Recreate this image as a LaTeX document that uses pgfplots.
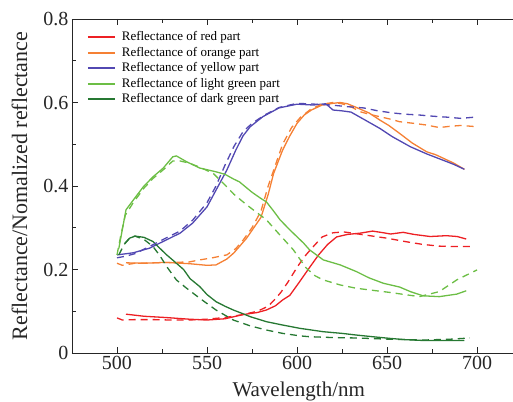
\documentclass[border=0pt]{standalone}
\usepackage{fontspec}
\setmainfont{Liberation Serif}
\usepackage{pgfplots}
\pgfplotsset{compat=1.18}
\definecolor{cred}{RGB}{237,32,36}
\definecolor{corange}{RGB}{245,128,52}
\definecolor{cyellow}{RGB}{82,72,178}
\definecolor{clight}{RGB}{108,190,69}
\definecolor{cdark}{RGB}{38,120,50}
\begin{document}
\begin{tikzpicture}
\begin{axis}[
  scale only axis, width=459pt, height=334pt,
  xmin=475, xmax=730, ymin=0, ymax=0.8,
  axis y line*=left,
  xtick={500,550,600,650,700}, minor xtick={525,575,625,675},
  ytick={0,0.2,0.4,0.6,0.8}, minor ytick={0.1,0.3,0.5,0.7},
  xtick pos=both, xticklabel pos=left, ytick pos=left,
  tick align=inside, major tick length=6pt, minor tick length=4pt,
  axis line style={black!85, line width=0.9pt, -},
  tick style={black!85, line width=0.9pt},
  /pgf/number format/assume math mode=true,
  tick label style={font=\fontsize{20}{22}\selectfont, black!85},
  xlabel={Wavelength/nm}, ylabel={Reflectance/Nomalized reflectance},
  xlabel style={font=\fontsize{21}{23}\selectfont, black!85, at={(axis description cs:0.494,-0.1317)}, anchor=base},
  ylabel style={font=\fontsize{22}{24}\selectfont, black!85, at={(axis description cs:-0.1144,0.5)}, anchor=center},
  legend cell align=left,
  legend style={at={(axis description cs:0.026,0.975)}, anchor=north west, draw=none, fill=none,
    font=\fontsize{13}{15}\selectfont, column sep=4pt,
    nodes={inner sep=2pt, text height=9pt, text depth=2.5pt}},
  legend image code/.code={\draw[#1, line width=1.7pt, solid] (0pt,0pt) -- (27pt,0pt);},
  every axis plot/.append style={line width=1.3pt},
  dashstyle/.style={dash pattern=on 7pt off 5pt},
]
\coordinate (bl) at (axis cs:435,-0.11497);
\coordinate (tr) at (axis cs:720,0.84551);
% solid
\addplot[cred] coordinates {(505,0.093)(515,0.088)(527,0.085)(540,0.081)(550,0.079)(560,0.082)(570,0.092)(578,0.097)(583,0.103)(588,0.113)(592,0.127)(596,0.138)(601,0.168)(607,0.205)(612,0.235)(617,0.26)(622,0.278)(628,0.284)(635,0.287)(642,0.292)(648,0.288)(652,0.285)(659,0.289)(665,0.284)(674,0.279)(683,0.281)(689,0.279)(694,0.273)};
\addlegendentry{Reflectance of red part}
\addplot[corange] coordinates {(505,0.216)(515,0.215)(527,0.217)(540,0.214)(550,0.21)(555,0.211)(561,0.225)(565,0.24)(568,0.255)(572,0.275)(576,0.3)(580,0.325)(584,0.38)(587,0.43)(592,0.486)(596,0.52)(600,0.55)(604,0.57)(608,0.582)(614,0.594)(620,0.598)(624,0.6)(628,0.597)(632,0.59)(640,0.575)(646,0.558)(651,0.545)(657,0.526)(664,0.503)(672,0.482)(677,0.475)(681,0.467)(687,0.455)(693,0.44)};
\addlegendentry{Reflectance of orange part}
\addplot[cyellow] coordinates {(500,0.235)(509,0.24)(518,0.251)(527,0.27)(535,0.287)(542,0.311)(550,0.35)(555,0.39)(561,0.438)(566,0.486)(570,0.52)(574,0.542)(581,0.566)(590,0.587)(600,0.596)(609,0.594)(616,0.597)(620,0.582)(625,0.58)(630,0.577)(637,0.56)(646,0.538)(653,0.518)(663,0.494)(672,0.477)(681,0.462)(687,0.452)(693,0.44)};
\addlegendentry{Reflectance of yellow part}
\addplot[clight] coordinates {(501,0.25)(505,0.343)(509,0.366)(514.6,0.398)(520,0.422)(525.7,0.443)(531,0.47)(533,0.472)(538.7,0.458)(546,0.443)(555,0.434)(560,0.428)(564.6,0.417)(568,0.41)(575,0.385)(580,0.37)(583,0.362)(587,0.34)(590.6,0.319)(596,0.295)(603.7,0.263)(607,0.247)(614.6,0.223)(624,0.211)(633,0.195)(640,0.18)(648,0.167)(657,0.158)(663,0.147)(670,0.137)(679,0.135)(688.7,0.141)(694,0.149)};
\addlegendentry{Reflectance of light green part}
\addplot[cdark] coordinates {(504.4,0.263)(507,0.275)(510,0.28)(515,0.277)(520,0.267)(524,0.25)(527.6,0.235)(533,0.215)(537,0.2)(540.6,0.178)(546,0.159)(550,0.14)(555,0.123)(560,0.112)(564.6,0.103)(570,0.094)(574,0.087)(583,0.075)(592,0.067)(601.7,0.059)(614.6,0.051)(625,0.047)(633,0.043)(642,0.039)(651.7,0.035)(660,0.032)(670,0.03)(680,0.03)(693,0.03)};
\addlegendentry{Reflectance of dark green part}
% dashed
\addplot[cred, dashstyle, forget plot] coordinates {(500,0.084)(503,0.079)(510,0.08)(520,0.08)(530,0.079)(540,0.079)(550,0.081)(560,0.085)(570,0.092)(578,0.1)(584,0.112)(588,0.13)(591,0.145)(595,0.17)(600,0.205)(604,0.23)(608,0.25)(614,0.278)(620,0.288)(626,0.29)(634,0.285)(642,0.28)(650,0.275)(660,0.267)(670,0.26)(679,0.256)(688,0.255)(696,0.255)};
\addplot[corange, dashstyle, forget plot] coordinates {(500,0.215)(503,0.21)(510,0.215)(520,0.216)(530,0.217)(540,0.218)(546,0.223)(553,0.228)(561,0.235)(566,0.25)(570,0.27)(575,0.3)(580,0.34)(584,0.4)(588,0.45)(592,0.5)(597,0.54)(602,0.565)(608,0.585)(614,0.596)(620,0.6)(625,0.597)(630,0.59)(635,0.578)(640,0.572)(646,0.566)(652,0.56)(657,0.554)(665,0.55)(672,0.546)(679,0.54)(685,0.543)(691,0.545)(700,0.542)};
\addplot[cyellow, dashstyle, forget plot] coordinates {(500,0.228)(505,0.232)(510,0.238)(518,0.255)(527,0.275)(535,0.292)(542,0.318)(550,0.36)(555,0.4)(560,0.45)(565,0.495)(570,0.53)(575,0.55)(582,0.57)(590,0.588)(600,0.598)(610,0.596)(619,0.594)(628,0.59)(637,0.587)(645,0.58)(653,0.575)(660,0.572)(668,0.57)(676,0.567)(683,0.565)(691,0.562)(699,0.565)};
\addplot[clight, dashstyle, forget plot] coordinates {(500,0.235)(502,0.279)(504.6,0.33)(509,0.36)(515,0.395)(520,0.418)(526,0.44)(531,0.46)(535,0.46)(540,0.455)(546,0.445)(553.5,0.43)(561,0.398)(565,0.38)(572,0.355)(583,0.319)(590,0.285)(598,0.247)(605,0.204)(610,0.185)(614.6,0.175)(624,0.163)(633,0.155)(651.7,0.145)(668,0.135)(679,0.147)(688.7,0.175)(700,0.199)};
\addplot[cdark, dashstyle, forget plot] coordinates {(501,0.235)(504,0.26)(507,0.275)(510,0.28)(515,0.272)(520,0.255)(524,0.232)(527.6,0.207)(533,0.175)(538.7,0.155)(546,0.131)(555,0.103)(564.6,0.079)(574,0.065)(583,0.055)(592,0.047)(601.7,0.041)(607,0.039)(620,0.037)(633,0.036)(651.7,0.033)(670,0.031)(685,0.033)(696,0.036)};
\end{axis}
\pgfresetboundingbox
\useasboundingbox (bl) rectangle (tr);
\end{tikzpicture}
\end{document}
